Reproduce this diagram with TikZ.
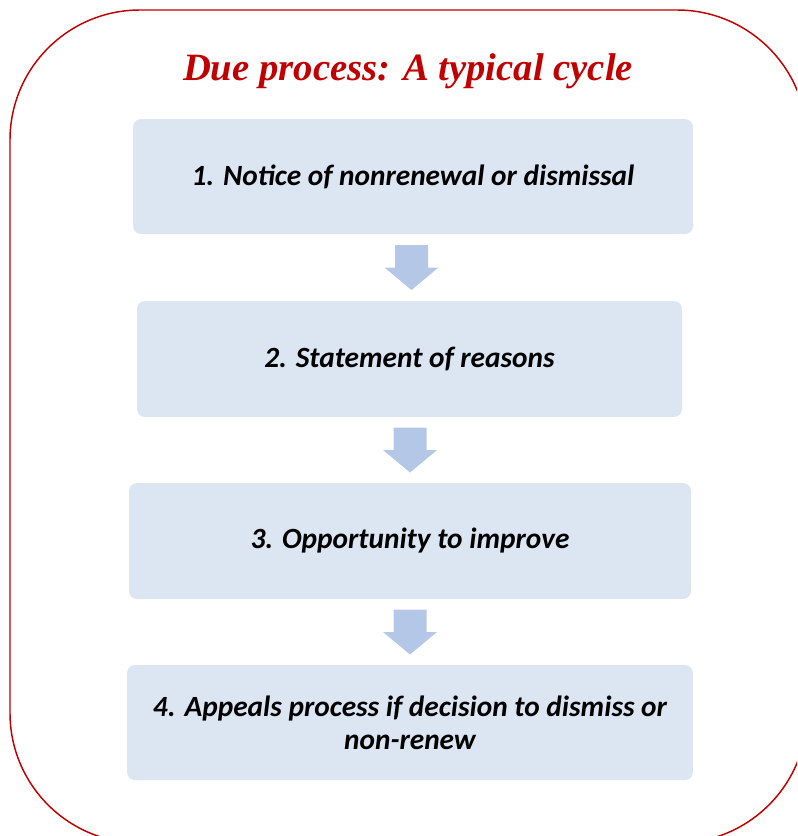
\documentclass[tikz,border=0pt]{standalone}
\usepackage{fontspec}
\setmainfont{Liberation Serif}
\newfontfamily\bodyfont{Carlito}
\usetikzlibrary{calc}
\definecolor{framered}{HTML}{C00000}
\definecolor{boxfill}{HTML}{DCE6F2}
\definecolor{arrowfill}{HTML}{B4C7E7}
\tikzset{
  stepbox/.style={rectangle, rounded corners=6pt, fill=boxfill, draw=none,
    align=center, inner sep=0pt,
    font=\bodyfont\bfseries\itshape\fontsize{22}{25}\selectfont},
  blockarrow/.style={fill=arrowfill, draw=none},
}
\begin{document}
\begin{tikzpicture}[x=0.75pt,y=-0.75pt]
\useasboundingbox (0,0) rectangle (797,836);
\clip (0,0) rectangle (797,836);
\draw[framered, line width=1.1pt, rounded corners=97.5pt] (10,10) rectangle (807,843);
\node[text=framered, font=\bfseries\itshape\fontsize{29}{34}\selectfont] (title) at (408,71) {Due process: A typical cycle};
\node[stepbox, minimum width=420pt, minimum height=86.25pt] (b1) at (413,176.5) {1. Notice of nonrenewal or dismissal};
\node[stepbox, minimum width=408.75pt, minimum height=87pt] (b2) at (409.5,359) {2. Statement of reasons};
\node[stepbox, minimum width=421.5pt, minimum height=87pt] (b3) at (410,541) {3. Opportunity to improve};
\node[stepbox, minimum width=424.5pt, minimum height=86.25pt] (b4) at (410,722.5) {4. Appeals process if decision to dismiss or\\[0pt] non-renew};
\foreach \a/\b/\xc in {b1/b2/411.5, b2/b3/410, b3/b4/410}{
  \coordinate (m) at ($(\b.north)!0.5!(\a.south)$);
  \path (m) ++(0,0) coordinate (mm);
  \fill[blockarrow] let \p1=(mm) in
    (\xc*0.75pt-16.5*0.75pt, \y1+22.5*0.75pt) -- (\xc*0.75pt+16.5*0.75pt, \y1+22.5*0.75pt)
    -- (\xc*0.75pt+16.5*0.75pt, \y1) -- (\xc*0.75pt+27*0.75pt, \y1)
    -- (\xc*0.75pt, \y1-22.5*0.75pt) -- (\xc*0.75pt-27*0.75pt, \y1)
    -- (\xc*0.75pt-16.5*0.75pt, \y1) -- cycle;
}
\end{tikzpicture}
\end{document}
